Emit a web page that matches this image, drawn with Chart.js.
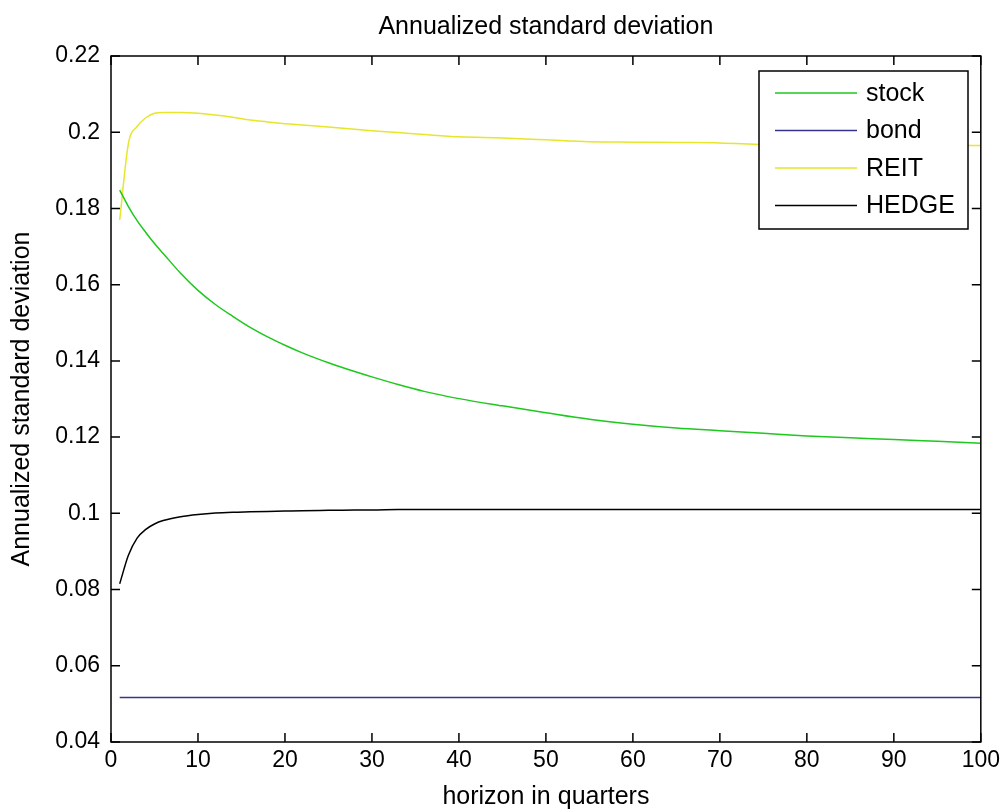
<!DOCTYPE html>
<html>
<head>
<meta charset="utf-8">
<script src="https://cdn.jsdelivr.net/npm/chart.js@4"></script>
<style>
  body { margin: 0; background: #fff; }
  #wrap { width: 1005px; height: 810px; }
</style>
</head>
<body>
<div id="wrap"><canvas id="grafico" width="1005" height="810"></canvas></div>
<script>
  const horizon = [1, 2, 3, 4, 5, 6, 8, 10, 12, 14, 16, 18, 20, 22, 25, 28, 30, 33, 36, 40, 45, 50, 55, 60, 65, 70, 75, 80, 85, 90, 95, 100];

  const stock = [0.1848, 0.1805, 0.1768, 0.1737, 0.1708, 0.1682, 0.1630, 0.1585, 0.1548, 0.1517, 0.1488, 0.1463, 0.1441, 0.1421, 0.1395, 0.1372, 0.1358, 0.1338, 0.1320, 0.1301, 0.1282, 0.1264, 0.1247, 0.1234, 0.1224, 0.1217, 0.1210, 0.1203, 0.1198, 0.1194, 0.1189, 0.1184];
  const bond = [0.0517, 0.0517, 0.0517, 0.0517, 0.0517, 0.0517, 0.0517, 0.0517, 0.0517, 0.0517, 0.0517, 0.0517, 0.0517, 0.0517, 0.0517, 0.0517, 0.0517, 0.0517, 0.0517, 0.0517, 0.0517, 0.0517, 0.0517, 0.0517, 0.0517, 0.0517, 0.0517, 0.0517, 0.0517, 0.0517, 0.0517, 0.0517];
  const reit = [0.1770, 0.1970, 0.2015, 0.2038, 0.2050, 0.2052, 0.2052, 0.2050, 0.2045, 0.2039, 0.2032, 0.2027, 0.2022, 0.2019, 0.2014, 0.2008, 0.2004, 0.1999, 0.1994, 0.1988, 0.1985, 0.1980, 0.1975, 0.1974, 0.1973, 0.1972, 0.1967, 0.1966, 0.1966, 0.1966, 0.1965, 0.1965];
  const hedge = [0.0815, 0.0890, 0.0935, 0.0958, 0.0972, 0.0981, 0.0991, 0.0997, 0.1001, 0.1003, 0.1004, 0.1005, 0.1006, 0.1007, 0.1008, 0.1009, 0.1009, 0.1010, 0.1010, 0.1010, 0.1010, 0.1010, 0.1010, 0.1010, 0.1010, 0.1010, 0.1010, 0.1010, 0.1010, 0.1010, 0.1010, 0.1010];

  const nomes = ['stock', 'bond', 'REIT', 'HEDGE'];
  const cores = ['#1ec81e', '#34348c', '#e6e62a', '#000000'];

  const FONTE = '"Liberation Sans", Arial, Helvetica, sans-serif';

  function pontos(serie) {
    return horizon.map((h, i) => ({ x: h, y: serie[i] }));
  }

  // MATLAB style: box round the axes with ticks pointing inwards, legend inside
  const caixaMatlab = {
    id: 'caixaMatlab',
    afterDraw(chart) {
      const { ctx, chartArea: a, scales } = chart;
      const len = 9;
      ctx.save();
      ctx.strokeStyle = '#000';
      ctx.lineWidth = 1.5;
      ctx.strokeRect(a.left, a.top, a.right - a.left, a.bottom - a.top);
      ctx.beginPath();
      scales.x.ticks.forEach(t => {
        const px = scales.x.getPixelForValue(t.value);
        ctx.moveTo(px, a.bottom); ctx.lineTo(px, a.bottom - len);
        ctx.moveTo(px, a.top); ctx.lineTo(px, a.top + len);
      });
      scales.y.ticks.forEach(t => {
        const py = scales.y.getPixelForValue(t.value);
        ctx.moveTo(a.left, py); ctx.lineTo(a.left + len, py);
        ctx.moveTo(a.right, py); ctx.lineTo(a.right - len, py);
      });
      ctx.stroke();

      // legend
      const lx = 759, ly = 71, lw = 209, lh = 158;
      ctx.fillStyle = '#fff';
      ctx.fillRect(lx, ly, lw, lh);
      ctx.lineWidth = 1.5;
      ctx.strokeRect(lx, ly, lw, lh);
      ctx.font = '25px ' + FONTE;
      ctx.textBaseline = 'middle';
      ctx.textAlign = 'left';
      chart.data.datasets.forEach((ds, i) => {
        const y = ly + 22 + i * 37.5;
        ctx.strokeStyle = ds.borderColor;
        ctx.lineWidth = 1.5;
        ctx.beginPath();
        ctx.moveTo(lx + 16, y);
        ctx.lineTo(lx + 98, y);
        ctx.stroke();
        ctx.fillStyle = '#000';
        ctx.fillText(ds.label, lx + 107, y + 1);
      });
      ctx.restore();
    }
  };

  const ctx = document.getElementById('grafico').getContext('2d');
  new Chart(ctx, {
    type: 'line',
    data: {
      datasets: [stock, bond, reit, hedge].map((s, i) => ({
        label: nomes[i],
        data: pontos(s),
        borderColor: cores[i],
        borderWidth: 1.5,
        pointRadius: 0,
        fill: false,
        cubicInterpolationMode: 'monotone'
      }))
    },
    options: {
      responsive: false,
      animation: false,
      layout: { padding: { top: 0, right: 23, bottom: 0, left: 0 } },
      plugins: {
        legend: { display: false },
        tooltip: { enabled: false },
        title: {
          display: true,
          fullSize: false,
          text: 'Annualized standard deviation',
          color: '#000',
          font: { family: FONTE, size: 25, weight: 'normal', lineHeight: 1.2 },
          padding: { top: 12, bottom: 14 }
        }
      },
      scales: {
        x: {
          type: 'linear',
          min: 0,
          max: 100,
          border: { display: false },
          grid: { display: false, drawTicks: false },
          ticks: { stepSize: 10, color: '#000', padding: 5, maxRotation: 0, font: { family: FONTE, size: 23 } },
          title: {
            display: true,
            text: 'horizon in quarters',
            color: '#000',
            font: { family: FONTE, size: 25, lineHeight: 1.0 },
            padding: 0
          },
          afterFit(scale) { scale.height = 68; }
        },
        y: {
          min: 0.04,
          max: 0.22,
          border: { display: false },
          grid: { display: false, drawTicks: false },
          ticks: {
            stepSize: 0.02,
            color: '#000',
            padding: 11,
            font: { family: FONTE, size: 23 },
            callback: v => String(+v.toFixed(2))
          },
          title: {
            display: true,
            text: 'Annualized standard deviation',
            color: '#000',
            font: { family: FONTE, size: 25, lineHeight: 1.2 },
            padding: { top: 7, bottom: 0 }
          },
          afterFit(scale) { scale.width = 111; }
        }
      }
    },
    plugins: [caixaMatlab]
  });
</script>
</body>
</html>
